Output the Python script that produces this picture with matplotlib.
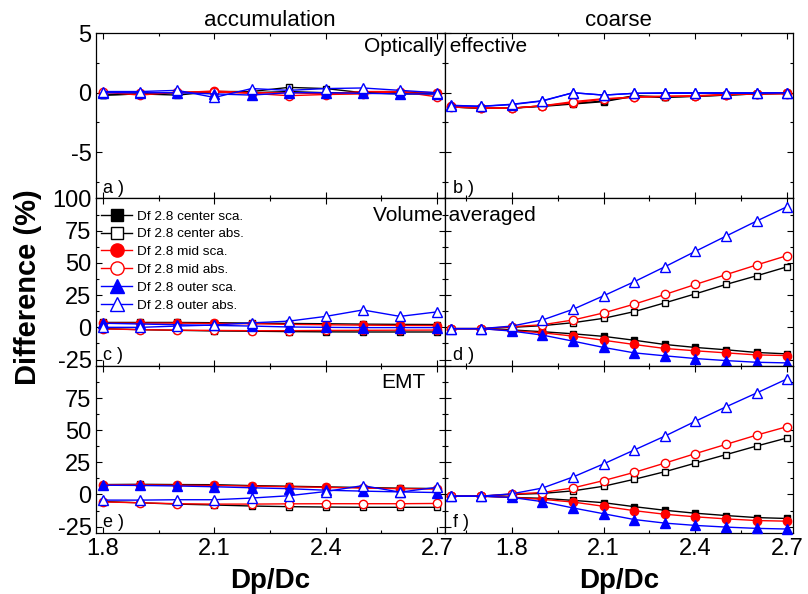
import matplotlib
matplotlib.use("Agg")
import matplotlib.pyplot as plt
from matplotlib.ticker import MultipleLocator

plt.rcParams['font.family'] = ['Liberation Sans', 'DejaVu Sans']

x_acc = [1.8, 1.9, 2.0, 2.1, 2.2, 2.3, 2.4, 2.5, 2.6, 2.7]
x_coarse = [1.6, 1.7, 1.8, 1.9, 2.0, 2.1, 2.2, 2.3, 2.4, 2.5, 2.6, 2.7]

series_labels = ["Df 2.8 center sca.", "Df 2.8 center abs.", "Df 2.8 mid sca.",
                 "Df 2.8 mid abs.", "Df 2.8 outer sca.", "Df 2.8 outer abs."]

# a) accumulation, optically effective
a_cs = [-0.2, -0.1, 0.0, 0.1, 0.0, 0.1, 0.0, 0.0, -0.1, -0.1]
a_ca = [-0.2, -0.1, -0.2, 0.1, 0.1, 0.45, 0.35, 0.0, 0.0, 0.0]
a_ms = [0.0, 0.0, 0.0, 0.15, 0.0, 0.0, -0.1, 0.1, 0.1, 0.0]
a_ma = [0.05, -0.2, 0.05, 0.05, -0.05, -0.25, -0.15, -0.1, 0.1, -0.35]
a_os = [0.0, 0.0, 0.0, -0.1, -0.2, 0.0, 0.0, -0.05, -0.1, -0.1]
a_oa = [0.1, 0.1, 0.2, -0.4, 0.35, 0.2, 0.35, 0.4, 0.2, 0.0]

# b) coarse, optically effective
b_cs = [-1.2, -1.3, -1.3, -1.15, -0.95, -0.75, -0.3, -0.4, -0.3, -0.2, -0.1, -0.05]
b_ca = [-1.2, -1.3, -1.3, -1.1, -0.9, -0.7, -0.25, -0.35, -0.3, -0.2, -0.1, -0.05]
b_ms = [-1.15, -1.25, -1.3, -1.1, -0.85, -0.55, -0.35, -0.3, -0.3, -0.15, -0.1, 0.0]
b_ma = [-1.2, -1.3, -1.3, -1.1, -0.75, -0.5, -0.4, -0.3, -0.25, -0.15, -0.1, -0.1]
b_os = [-1.05, -1.15, -1.0, -0.7, 0.0, -0.2, -0.05, 0.0, 0.0, 0.0, 0.0, 0.0]
b_oa = [-1.08, -1.14, -0.97, -0.67, 0.0, -0.2, -0.05, -0.05, -0.05, -0.05, -0.05, 0.0]

# c) accumulation, volume averaged
c_cs = [3.8, 3.8, 3.8, 3.6, 3.3, 3.0, 2.8, 2.5, 2.3, 2.2]
c_ca = [-1.0, -1.8, -2.3, -2.8, -3.0, -3.3, -3.5, -3.6, -3.6, -3.6]
c_ms = [3.3, 3.3, 3.3, 3.0, 2.8, 2.3, 2.0, 1.7, 1.5, 1.4]
c_ma = [-1.2, -1.8, -2.2, -2.4, -2.6, -2.6, -2.4, -2.3, -2.2, -2.1]
c_os = [3.2, 2.6, 2.0, 1.5, 1.0, 0.3, 0.0, -0.2, -0.2, -0.2]
c_oa = [0.0, 0.0, 1.0, 1.8, 3.5, 4.8, 8.5, 13.5, 8.5, 12.0]

# d) coarse, volume averaged
d_cs = [-1.0, -1.0, -2.0, -3.4, -5.0, -7.0, -10.0, -13.3, -15.6, -17.4, -19.5, -20.6]
d_ca = [-1.0, -1.0, 0.0, 1.3, 3.6, 7.0, 12.2, 19.0, 26.0, 33.3, 40.0, 47.0]
d_ms = [-1.0, -1.0, -2.6, -4.2, -6.8, -10.0, -13.3, -16.4, -18.2, -19.8, -21.4, -21.9]
d_ma = [-1.0, -1.0, 0.5, 2.0, 5.7, 11.2, 18.0, 25.5, 33.3, 40.9, 48.4, 55.7]
d_os = [-1.0, -1.0, -2.9, -6.0, -10.7, -15.6, -19.8, -22.1, -24.2, -25.8, -27.1, -27.6]
d_oa = [-1.0, -1.0, 1.0, 5.7, 14.0, 24.5, 35.4, 47.0, 59.0, 70.8, 82.5, 93.7]

# e) accumulation, EMT
e_cs = [7.7, 7.9, 7.7, 7.6, 6.9, 6.4, 5.9, 5.4, 4.9, 4.6]
e_ca = [-5.5, -6.5, -7.5, -8.2, -9.0, -9.5, -9.8, -10.0, -10.0, -10.0]
e_ms = [7.5, 7.5, 7.2, 7.0, 6.5, 6.0, 5.5, 5.0, 4.5, 4.2]
e_ma = [-5.8, -6.5, -7.2, -7.5, -7.5, -7.3, -7.2, -7.2, -7.2, -7.0]
e_os = [7.2, 7.0, 6.6, 6.0, 5.2, 4.5, 3.3, 2.6, 2.0, 1.5]
e_oa = [-4.4, -4.4, -4.1, -4.1, -2.8, -1.0, 2.3, 6.9, 1.8, 5.6]

# f) coarse, EMT
f_cs = [-1.3, -1.3, -2.3, -3.0, -4.6, -6.4, -9.5, -12.3, -14.6, -16.4, -18.0, -18.7]
f_ca = [-1.3, -1.3, 0.0, 0.8, 2.8, 6.4, 11.8, 17.7, 24.4, 31.0, 37.7, 44.0]
f_ms = [-1.3, -1.3, -2.3, -3.8, -5.9, -9.2, -12.6, -15.4, -17.4, -19.0, -20.3, -20.8]
f_ma = [-1.3, -1.3, 0.3, 1.5, 5.1, 10.8, 17.2, 24.4, 31.8, 39.0, 46.2, 52.8]
f_os = [-1.3, -1.3, -2.3, -5.6, -10.5, -15.0, -19.5, -22.3, -24.1, -25.4, -26.4, -26.9]
f_oa = [-1.3, -1.3, 0.5, 5.0, 13.6, 23.8, 34.6, 45.4, 57.0, 68.2, 79.0, 90.0]

styles = [
    dict(color='black', marker='s', mfc='black', ms=4.2),
    dict(color='black', marker='s', mfc='white', ms=4.2),
    dict(color='red', marker='o', mfc='red', ms=6),
    dict(color='red', marker='o', mfc='white', ms=6),
    dict(color='blue', marker='^', mfc='blue', ms=6.5),
    dict(color='blue', marker='^', mfc='white', ms=6.5),
]
legend_ms = [9.0, 9.0, 9.5, 9.5, 10.5, 10.5]

W, H = 808, 594
fig = plt.figure(figsize=(W / 100, H / 100), dpi=100)

def fx(px):
    return px / W

def fy(py):
    return 1 - py / H

left_x0, mid_x, right_x1 = 95.7, 444.5, 793.3
rows = [(33.3, 198.5), (198.5, 366), (366, 533)]

panels = [
    (x_acc, [a_cs, a_ca, a_ms, a_ma, a_os, a_oa]),
    (x_coarse, [b_cs, b_ca, b_ms, b_ma, b_os, b_oa]),
    (x_acc, [c_cs, c_ca, c_ms, c_ma, c_os, c_oa]),
    (x_coarse, [d_cs, d_ca, d_ms, d_ma, d_os, d_oa]),
    (x_acc, [e_cs, e_ca, e_ms, e_ma, e_os, e_oa]),
    (x_coarse, [f_cs, f_ca, f_ms, f_ma, f_os, f_oa]),
]
letters = ['a )', 'b )', 'c )', 'd )', 'e )', 'f )']

axes = []
for i, (xs, ys_list) in enumerate(panels):
    r, c = divmod(i, 2)
    top, bot = rows[r]
    x0 = left_x0 if c == 0 else mid_x
    x1 = mid_x if c == 0 else right_x1
    ax = fig.add_axes([fx(x0), fy(bot), fx(x1) - fx(x0), fy(top) - fy(bot)])
    axes.append(ax)
    for ys, st, lab in zip(ys_list, styles, series_labels):
        ax.plot(xs, ys, lw=1.0, mec=st['color'], mew=1.0, label=lab,
                clip_on=False, zorder=3, **st)
    if c == 0:
        ax.set_xlim(1.78, 2.72)
    else:
        ax.set_xlim(1.58, 2.72)
    ax.xaxis.set_major_locator(MultipleLocator(0.3))
    ax.xaxis.set_minor_locator(MultipleLocator(0.15))
    if r == 0:
        ax.set_ylim(-8.9, 5)
        ax.yaxis.set_major_locator(MultipleLocator(5))
        ax.yaxis.set_minor_locator(MultipleLocator(2.5))
    else:
        ax.set_ylim(-30, 100)
        ax.yaxis.set_major_locator(MultipleLocator(25))
        ax.yaxis.set_minor_locator(MultipleLocator(12.5))
    ax.tick_params(which='both', direction='in', top=True, right=True,
                   labelsize=17, width=0.8)
    ax.tick_params(which='major', length=4)
    ax.tick_params(which='minor', length=2.5)
    ax.tick_params(axis='y', pad=3)
    if r < 2:
        ax.tick_params(labelbottom=False)
    else:
        ax.xaxis.set_major_formatter(plt.FuncFormatter(lambda v, p: f"{v:.1f}"))
        ax.set_xlabel("Dp/Dc", fontsize=20, fontweight='bold', labelpad=6)
    if c == 1:
        ax.tick_params(labelleft=False)
    else:
        if r == 2:
            ax.yaxis.set_major_formatter(plt.FuncFormatter(
                lambda v, p: "" if v >= 100 else f"{v:g}"))
        else:
            ax.yaxis.set_major_formatter(plt.FuncFormatter(lambda v, p: f"{v:g}"))
    for sp in ax.spines.values():
        sp.set_linewidth(0.9)
    ax.text(0.022 if c == 0 else 0.025, 0.06, letters[i], transform=ax.transAxes,
            fontsize=13, ha='left', va='center')

axes[0].set_title("accumulation", fontsize=16, pad=5)
axes[1].set_title("coarse", fontsize=16, pad=5)

fig.text(fx(446), fy(47), "Optically effective", fontsize=15, ha='center', va='center')
fig.text(fx(454), fy(215), "Volume averaged", fontsize=15, ha='center', va='center')
fig.text(fx(403), fy(383), "EMT", fontsize=15, ha='center', va='center')

fig.text(fx(28), fy(287), "Difference (%)", fontsize=21, fontweight='bold',
         rotation=90, ha='center', va='center')

leg = axes[2].legend(loc='upper left', frameon=False, fontsize=9.7,
                     handlelength=2.3, handletextpad=0.35, labelspacing=0.4,
                     bbox_to_anchor=(0.004, 0.955), borderaxespad=0.0,
                     borderpad=0.3)
for h, m in zip(leg.legend_handles, legend_ms):
    h.set_markersize(m)

fig.savefig("out.png", dpi=100)
